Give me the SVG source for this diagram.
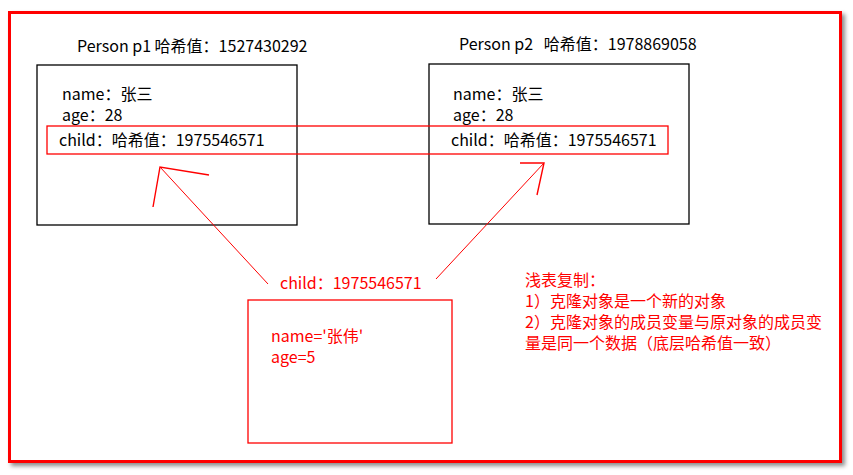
<svg xmlns="http://www.w3.org/2000/svg" width="853" height="475" viewBox="0 0 853 475">
<style>
text{font-family:"Microsoft YaHei","Noto Sans CJK SC","Noto Sans",sans-serif;font-size:16px;white-space:pre}
.k{fill:#000}
.r{fill:#ff0000}
.box{fill:none;stroke:#000;stroke-width:1.3}
.rbox{fill:none;stroke:#ff0000;stroke-width:1.3}
.con{fill:none;stroke:#ff0000;stroke-width:1}
.barb{fill:none;stroke:#ff0000;stroke-width:1.4}
</style>
<defs>
<filter id="sh" x="-5%" y="-5%" width="110%" height="110%">
<feDropShadow dx="3" dy="3" stdDeviation="2" flood-color="#000" flood-opacity="0.45"/>
</filter>
</defs>
<rect x="0" y="0" width="853" height="475" fill="#fff"/>
<rect id="frame" x="9.5" y="12.5" width="831" height="449" fill="#fff" stroke="#ff0000" stroke-width="3" filter="url(#sh)"/>
<g id="p1">
<text class="k" x="77" y="52">Person p1 哈希值：1527430292</text>
<rect class="box" x="37" y="65" width="260" height="160"/>
<text class="k" x="62" y="100">name：张三</text>
<text class="k" x="62" y="121">age：28</text>
<text class="k" x="59" y="146">child：哈希值：1975546571</text>
</g>
<g id="p2">
<text class="k" x="459" y="50" xml:space="preserve">Person p2   哈希值：1978869058</text>
<rect class="box" x="429" y="64" width="260" height="160"/>
<text class="k" x="453" y="100">name：张三</text>
<text class="k" x="453" y="121">age：28</text>
<text class="k" x="451" y="146">child：哈希值：1975546571</text>
</g>
<g id="child-ref">
<rect class="rbox" x="47" y="126" width="621" height="28"/>
</g>
<g id="child-label">
<text class="r" x="280" y="289">child：1975546571</text>
</g>
<g id="child-obj">
<rect class="rbox" x="248" y="300" width="204" height="143"/>
<text class="r" x="271" y="342">name='张伟'</text>
<text class="r" x="271" y="363">age=5</text>
</g>
<g id="note">
<text class="r" x="525" y="286">浅表复制：</text>
<text class="r" x="525" y="307">1）克隆对象是一个新的对象</text>
<text class="r" x="525" y="328">2）克隆对象的成员变量与原对象的成员变</text>
<text class="r" x="525" y="349">量是同一个数据（底层哈希值一致）</text>
</g>
<g id="connectors">
<line class="con" x1="268" y1="284" x2="160" y2="167"/>
<polyline class="barb" points="153,207 160,167 209,175"/>
<line class="con" x1="436" y1="279" x2="544" y2="163"/>
<polyline class="barb" points="520,163 544,163 537,195"/>
</g>
</svg>
